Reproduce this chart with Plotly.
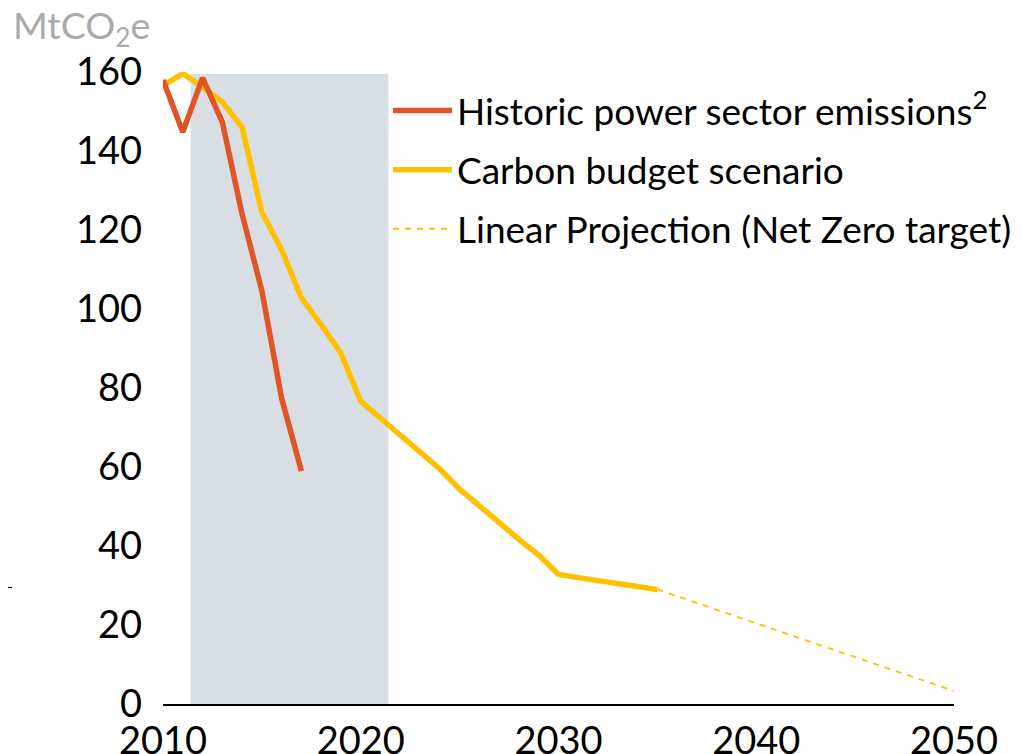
import plotly.graph_objects as go

hist_years = [2010, 2011, 2012, 2013, 2014, 2015, 2016, 2017]
hist_vals = [158, 144.8, 158.5, 147.3, 124, 104.6, 77.4, 59]

budget_years = list(range(2010, 2036))
budget_vals = [156.6, 159.6, 156.2, 152.4, 146, 124.4, 115, 102.8, 96, 88.8,
               76.6, 72.3, 68, 63.8, 59.5, 54.4, 50.1, 46, 41.7, 37.7,
               32.8, 32.0, 31.3, 30.5, 29.8, 29.0]

proj_years = [2035, 2050]
proj_vals = [29.0, 3.3]

shade_period = [2011.4, 2021.4]
shade_top = 159.5

x_ticks = [2010, 2020, 2030, 2040, 2050]
y_ticks = [0, 20, 40, 60, 80, 100, 120, 140, 160]

RED = "#E05426"
YELLOW = "#FFC000"
FONT = "Lato"

# page body has an 8px margin; figure coordinates are screen coordinates minus 8
W, H = 1015, 746
PL, PT = 155, 64
PW, PH = 791, 632
PR = W - PL - PW
PB = H - PT - PH

fig = go.Figure()

fig.add_shape(type="rect", x0=shade_period[0], x1=shade_period[1], y0=0, y1=shade_top,
              xref="x", yref="y", fillcolor="#D9DEE5", line_width=0, layer="below")

fig.add_trace(go.Scatter(x=budget_years, y=budget_vals, mode="lines",
                         line=dict(color=YELLOW, width=5.5),
                         name="Carbon budget scenario", legendgroup="b", legendrank=2))
fig.add_trace(go.Scatter(x=proj_years, y=proj_vals, mode="lines",
                         line=dict(color=YELLOW, width=1.8, dash="6px,6px"),
                         name="Linear Projection (Net Zero target)", legendgroup="c", legendrank=3))
fig.add_trace(go.Scatter(x=hist_years, y=hist_vals, mode="lines",
                         line=dict(color=RED, width=5.5),
                         name="Historic power sector emissions<sup>2</sup>", legendgroup="a", legendrank=1))

# stray tick mark at left edge
fig.add_shape(type="line", xref="paper", yref="y", x0=-PL / PW, x1=(4 - PL) / PW, y0=29.5, y1=29.5,
              line=dict(color="black", width=1.2))

fig.add_annotation(text="MtCO<sub>2</sub>e", xref="paper", yref="paper", x=(3 - PL) / PW,
                   y=1 + (PT - 19) / PH, xanchor="left", yanchor="middle", showarrow=False,
                   font=dict(family=FONT, size=37.5, color="#AAAAAA"))

fig.update_layout(
    width=W, height=H,
    margin=dict(l=PL, r=PR, t=PT, b=PB, autoexpand=False),
    paper_bgcolor="white", plot_bgcolor="white",
    font=dict(family=FONT, size=37, color="black"),
    showlegend=True,
    legend=dict(x=(380 - PL) / PW, y=1 - (72 - PT) / PH, xanchor="left", yanchor="top",
                font=dict(family=FONT, size=37, color="black"), tracegroupgap=8,
                bgcolor="rgba(0,0,0,0)", itemwidth=59),
    xaxis=dict(range=[2010, 2050], tickvals=x_ticks, showgrid=False, zeroline=False,
               showline=True, linecolor="black", linewidth=1.5, ticks="", automargin=False,
               ticklabelstandoff=3, tickfont=dict(size=38)),
    yaxis=dict(range=[0, 160], tickvals=y_ticks, showgrid=False, zeroline=False,
               showline=False, ticks="", automargin=False,
               ticklabelstandoff=20, tickfont=dict(size=38)),
)

fig.write_html("out.html")
